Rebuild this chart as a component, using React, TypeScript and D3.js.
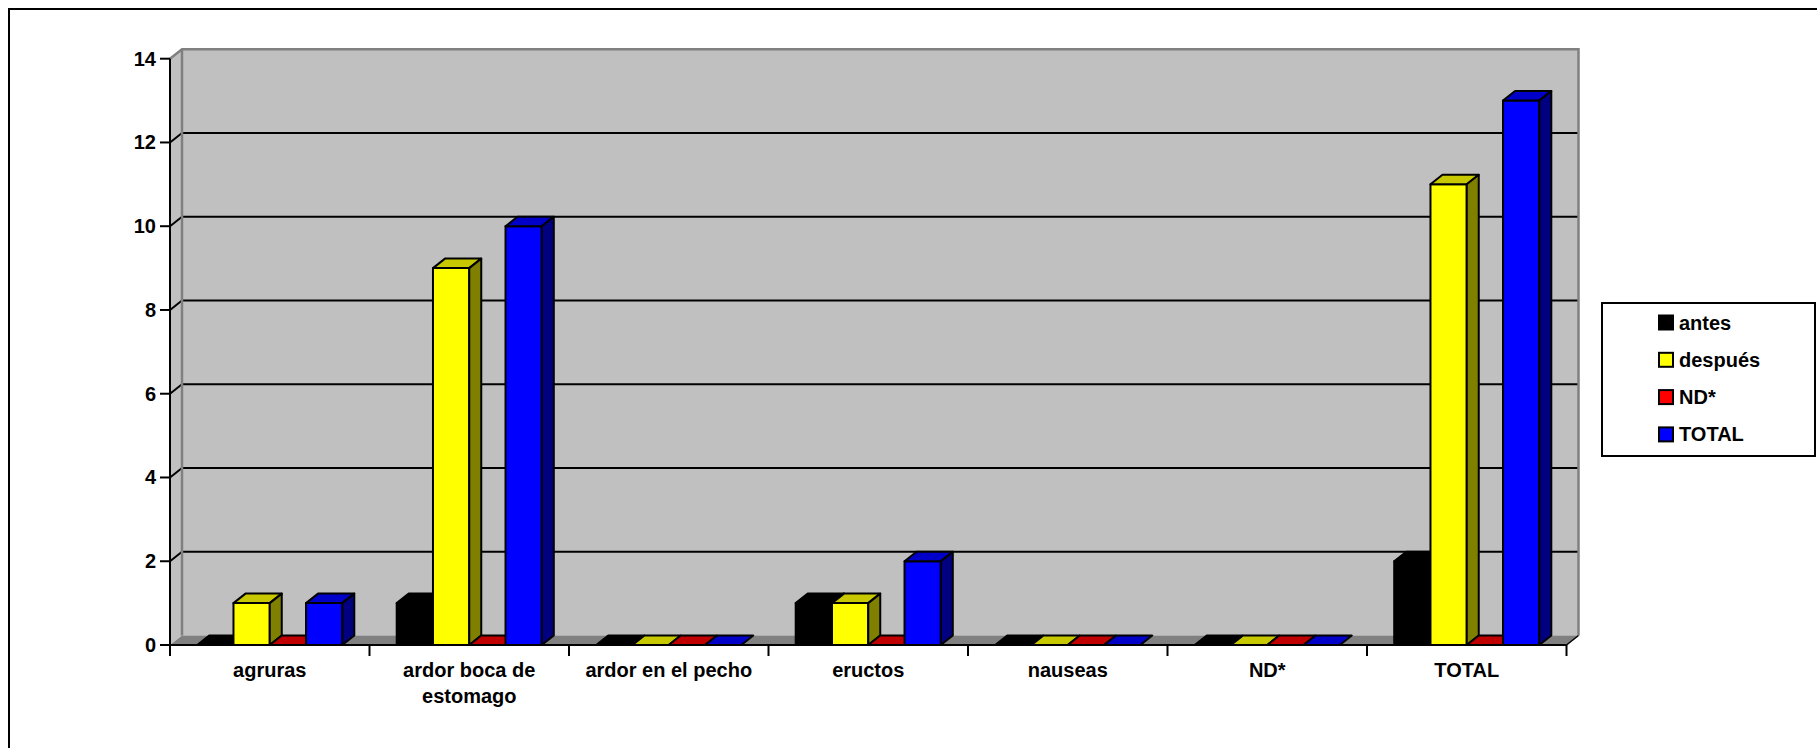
import React from "react";
import * as d3 from "d3";

// Categories along the x axis (multi-line labels split on "\n")
const categories = [
  "agruras",
  "ardor boca de\nestomago",
  "ardor en el pecho",
  "eructos",
  "nauseas",
  "ND*",
  "TOTAL",
];

const seriesNames = ["antes", "después", "ND*", "TOTAL"];

const antes = [0, 1, 0, 1, 0, 0, 2];
const despues = [1, 9, 0, 1, 0, 0, 11];
const nd = [0, 0, 0, 0, 0, 0, 0];
const total = [1, 10, 0, 2, 0, 0, 13];

const yTicks = [0, 2, 4, 6, 8, 10, 12, 14];

const seriesValues = [antes, despues, nd, total];

// face colours per series: front, top, side
const palette = [
  { front: "#000000", top: "#000000", side: "#000000", swatch: "#000000" },
  { front: "#FFFF00", top: "#C8C800", side: "#808000", swatch: "#FFFF00" },
  { front: "#FF0000", top: "#C00000", side: "#800000", swatch: "#FF0000" },
  { front: "#0000FF", top: "#0000C8", side: "#000080", swatch: "#0000FF" },
];

const W = 1817;
const H = 748;
const FONT = "'Liberation Sans', Arial, Helvetica, sans-serif";

export default function App() {
  const x0 = 170;
  const x1 = 1566.5;
  const yBase = 645;
  const yTop = 58.7;
  const dx = 12;
  const dy = 9.5;

  const x = d3.scaleBand<string>().domain(categories).range([x0, x1]).padding(0);
  const y = d3.scaleLinear().domain([0, 14]).range([yBase, yTop]);
  const step = x.bandwidth();
  const bw = step / 5.5;
  const inner = d3
    .scaleBand<string>()
    .domain(seriesNames)
    .range([bw * 0.75, bw * 4.75])
    .padding(0);

  const poly = (pts: [number, number][]) =>
    pts.map((p) => p.join(",")).join(" ");

  const wallTop = y(14) - dy;
  const wallLeft = x0 + dx;
  const wallRight = x1 + dx;
  const floorBack = yBase - dy;

  const bars: React.ReactNode[] = [];
  categories.forEach((c, ci) => {
    seriesNames.forEach((s, si) => {
      const v = seriesValues[si][ci];
      const bx = (x(c) as number) + (inner(s) as number);
      const bwid = inner.bandwidth();
      const yt = y(v);
      const col = palette[si];
      const sw = 2;
      bars.push(
        <g key={`${ci}-${si}`} stroke="#000" strokeWidth={sw} strokeLinejoin="round">
          {v > 0 && (
            <polygon
              points={poly([
                [bx, yBase],
                [bx + bwid, yBase],
                [bx + bwid, yt],
                [bx, yt],
              ])}
              fill={col.front}
            />
          )}
          <polygon
            points={poly([
              [bx, yt],
              [bx + bwid, yt],
              [bx + bwid + dx, yt - dy],
              [bx + dx, yt - dy],
            ])}
            fill={col.top}
          />
          {v > 0 && (
            <polygon
              points={poly([
                [bx + bwid, yBase],
                [bx + bwid + dx, yBase - dy],
                [bx + bwid + dx, yt - dy],
                [bx + bwid, yt],
              ])}
              fill={col.side}
            />
          )}
        </g>
      );
    });
  });

  return (
    <div style={{ position: "absolute", left: 0, top: 0 }}>
      <svg width={W} height={H} style={{ display: "block" }} fontFamily={FONT}>
        <rect x={0} y={0} width={W} height={H} fill="#fff" />
        {/* outer chart frame */}
        <rect x={9} y={9} width={1900} height={900} fill="none" stroke="#000" strokeWidth={2} />

        {/* back wall */}
        <rect
          x={wallLeft}
          y={wallTop}
          width={wallRight - wallLeft}
          height={floorBack - wallTop}
          fill="#C0C0C0"
        />
        {/* side wall */}
        <polygon
          points={poly([
            [x0, yBase],
            [x0, y(14)],
            [wallLeft, wallTop],
            [wallLeft, floorBack],
          ])}
          fill="#C0C0C0"
        />
        {/* floor */}
        <polygon
          points={poly([
            [x0, yBase],
            [x1, yBase],
            [wallRight, floorBack],
            [wallLeft, floorBack],
          ])}
          fill="#808080"
        />

        {/* gridlines on back and side walls */}
        {yTicks
          .filter((t) => t > 0 && t < 14)
          .map((t) => (
            <g key={t} stroke="#000" strokeWidth={2}>
              <line x1={wallLeft} x2={wallRight} y1={y(t) - dy} y2={y(t) - dy} />
              <line x1={x0} x2={wallLeft} y1={y(t)} y2={y(t) - dy} />
            </g>
          ))}

        {/* wall edges */}
        <g stroke="#808080" strokeWidth={2.5} fill="none">
          <polyline
            points={poly([
              [x0, y(14)],
              [wallLeft, wallTop],
              [wallRight, wallTop],
              [wallRight, floorBack],
            ])}
          />
          <line x1={wallLeft} x2={wallLeft} y1={wallTop} y2={floorBack} />
        </g>
        <line x1={x1} y1={yBase} x2={wallRight} y2={floorBack} stroke="#000" strokeWidth={1.5} />

        {bars}

        {/* y axis */}
        <line x1={x0} x2={x0} y1={yBase} y2={y(14)} stroke="#000" strokeWidth={2} />
        {yTicks.map((t) => (
          <g key={t}>
            <line x1={x0 - 10} x2={x0} y1={y(t)} y2={y(t)} stroke="#000" strokeWidth={2} />
            <text
              x={x0 - 14}
              y={y(t)}
              textAnchor="end"
              dominantBaseline="central"
              fontSize={20}
              fontWeight="bold"
            >
              {t}
            </text>
          </g>
        ))}

        {/* x axis */}
        <line x1={x0} x2={x1} y1={yBase} y2={yBase} stroke="#000" strokeWidth={2} />
        {[...categories.map((c) => x(c) as number), x1].map((px, i) => (
          <line key={i} x1={px} x2={px} y1={yBase} y2={yBase + 11} stroke="#000" strokeWidth={2} />
        ))}
        {categories.map((c) => {
          const cx = (x(c) as number) + step / 2;
          return (
            <text key={c} x={cx} textAnchor="middle" fontSize={20} fontWeight="bold">
              {c.split("\n").map((ln, i) => (
                <tspan key={i} x={cx} y={677 + i * 26}>
                  {ln}
                </tspan>
              ))}
            </text>
          );
        })}

        {/* legend */}
        <rect x={1602} y={303} width={213} height={153} fill="#fff" stroke="#000" strokeWidth={2} />
        {seriesNames.map((s, i) => {
          const cy = 322.5 + i * 37.3;
          return (
            <g key={s}>
              <rect
                x={1659}
                y={cy - 7}
                width={14}
                height={14}
                fill={palette[i].swatch}
                stroke="#000"
                strokeWidth={2}
              />
              <text
                x={1679}
                y={cy}
                dominantBaseline="central"
                fontSize={20}
                fontWeight="bold"
              >
                {s}
              </text>
            </g>
          );
        })}
      </svg>
    </div>
  );
}
